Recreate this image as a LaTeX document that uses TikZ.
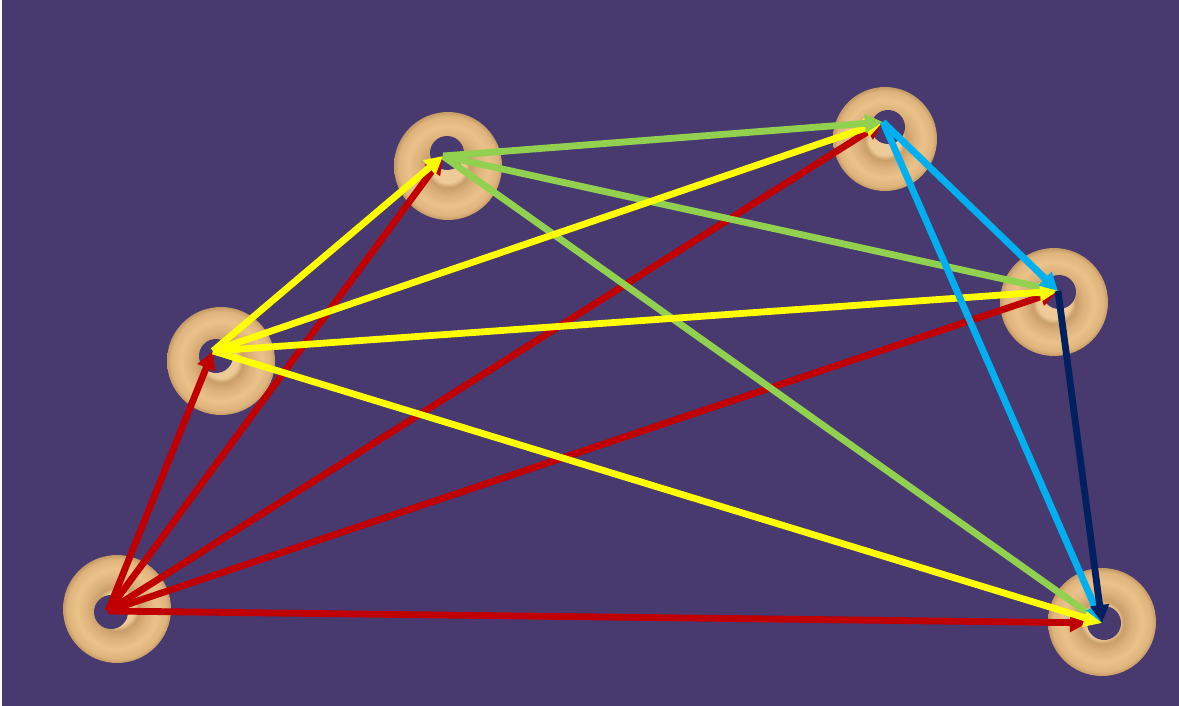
\documentclass[tikz,border=0pt]{standalone}
\usetikzlibrary{arrows.meta}

\definecolor{bgpurple}{HTML}{483A6E}
\definecolor{cred}{HTML}{C00000}
\definecolor{cyellow}{HTML}{FFFF00}
\definecolor{cgreen}{HTML}{92D050}
\definecolor{cblue}{HTML}{00B0F0}
\definecolor{cnavy}{HTML}{002060}
\definecolor{ringA}{HTML}{EECA96}
\definecolor{ringB}{HTML}{C99E68}
\definecolor{ringC}{HTML}{DDB27C}
\definecolor{ringD}{HTML}{EBC28A}
\definecolor{ringE}{HTML}{DFB47D}
\definecolor{ringF}{HTML}{C49A66}

% torus-like ring: light rim at the hole, bright band in the middle, darker outer edge
\pgfdeclareradialshading{ringshade}{\pgfpoint{0bp}{0bp}}{%
  color(0bp)=(ringA);
  color(7.8bp)=(ringA);
  color(10bp)=(ringB);
  color(14bp)=(ringC);
  color(18.5bp)=(ringD);
  color(23bp)=(ringE);
  color(25bp)=(ringF);
  color(50bp)=(ringF)}

\tikzset{
  ring/.style={circle, minimum size=108pt, inner sep=0pt, shading=ringshade},
  hole/.style={circle, minimum size=34pt, inner sep=0pt, fill=bgpurple},
  link/.style={line width=6.8pt, -{Triangle[length=18pt,width=18pt]}},
  rlink/.style={link, cred},
  ylink/.style={link, cyellow},
  glink/.style={link, cgreen},
  blink/.style={link, cblue},
  nlink/.style={link, cnavy},
}

\begin{document}
\begin{tikzpicture}[x=1pt, y=-1pt]
  % canvas
  \fill[white] (0,0) rectangle (1179,706);
  \fill[bgpurple] (2,0) rectangle (1179,706);
  \useasboundingbox (0,0) rectangle (1179,706);

  % rings
  \node[ring] (ringa) at (117,609) {};
  \node[ring] (ringb) at (221,361) {};
  \node[ring] (ringc) at (448,166) {};
  \node[ring, minimum size=104pt] (ringd) at (885,139) {};
  \node[ring] (ringe) at (1054,302) {};
  \node[ring] (ringf) at (1102,622) {};

  % holes
  \node[hole] (holea) at (111,612) {};
  \node[hole] (holeb) at (216,356) {};
  \node[hole] (holec) at (447,153) {};
  \node[hole] (holed) at (888,127) {};
  \node[hole] (holee) at (1059,292) {};
  \node[hole] (holef) at (1104,623) {};

  % hubs where the links meet
  \coordinate (a) at (108,611);
  \coordinate (b) at (213,351);
  \coordinate (c) at (443,156);
  \coordinate (d) at (883,122);
  \coordinate (e) at (1058,291);
  \coordinate (f) at (1102,623);

  % links out of a
  \draw[rlink] (a) -- (b);
  \draw[rlink] (a) -- (c);
  \draw[rlink] (a) -- (d);
  \draw[rlink] (a) -- (e);
  \draw[rlink, shorten >=14pt] (a) -- (f);

  % links out of c
  \draw[glink] (c) -- (e);
  \draw[glink] (c) -- (f);

  % links out of b
  \draw[ylink] (b) -- (c);
  \draw[ylink] (b) -- (d);
  \draw[ylink] (b) -- (e);
  \draw[ylink] (b) -- (f);

  \draw[glink] (c) -- (d);

  % links out of d and e
  \draw[blink] (d) -- (e);
  \draw[blink] (d) -- (f);
  \draw[nlink] (e) -- (f);
\end{tikzpicture}
\end{document}
